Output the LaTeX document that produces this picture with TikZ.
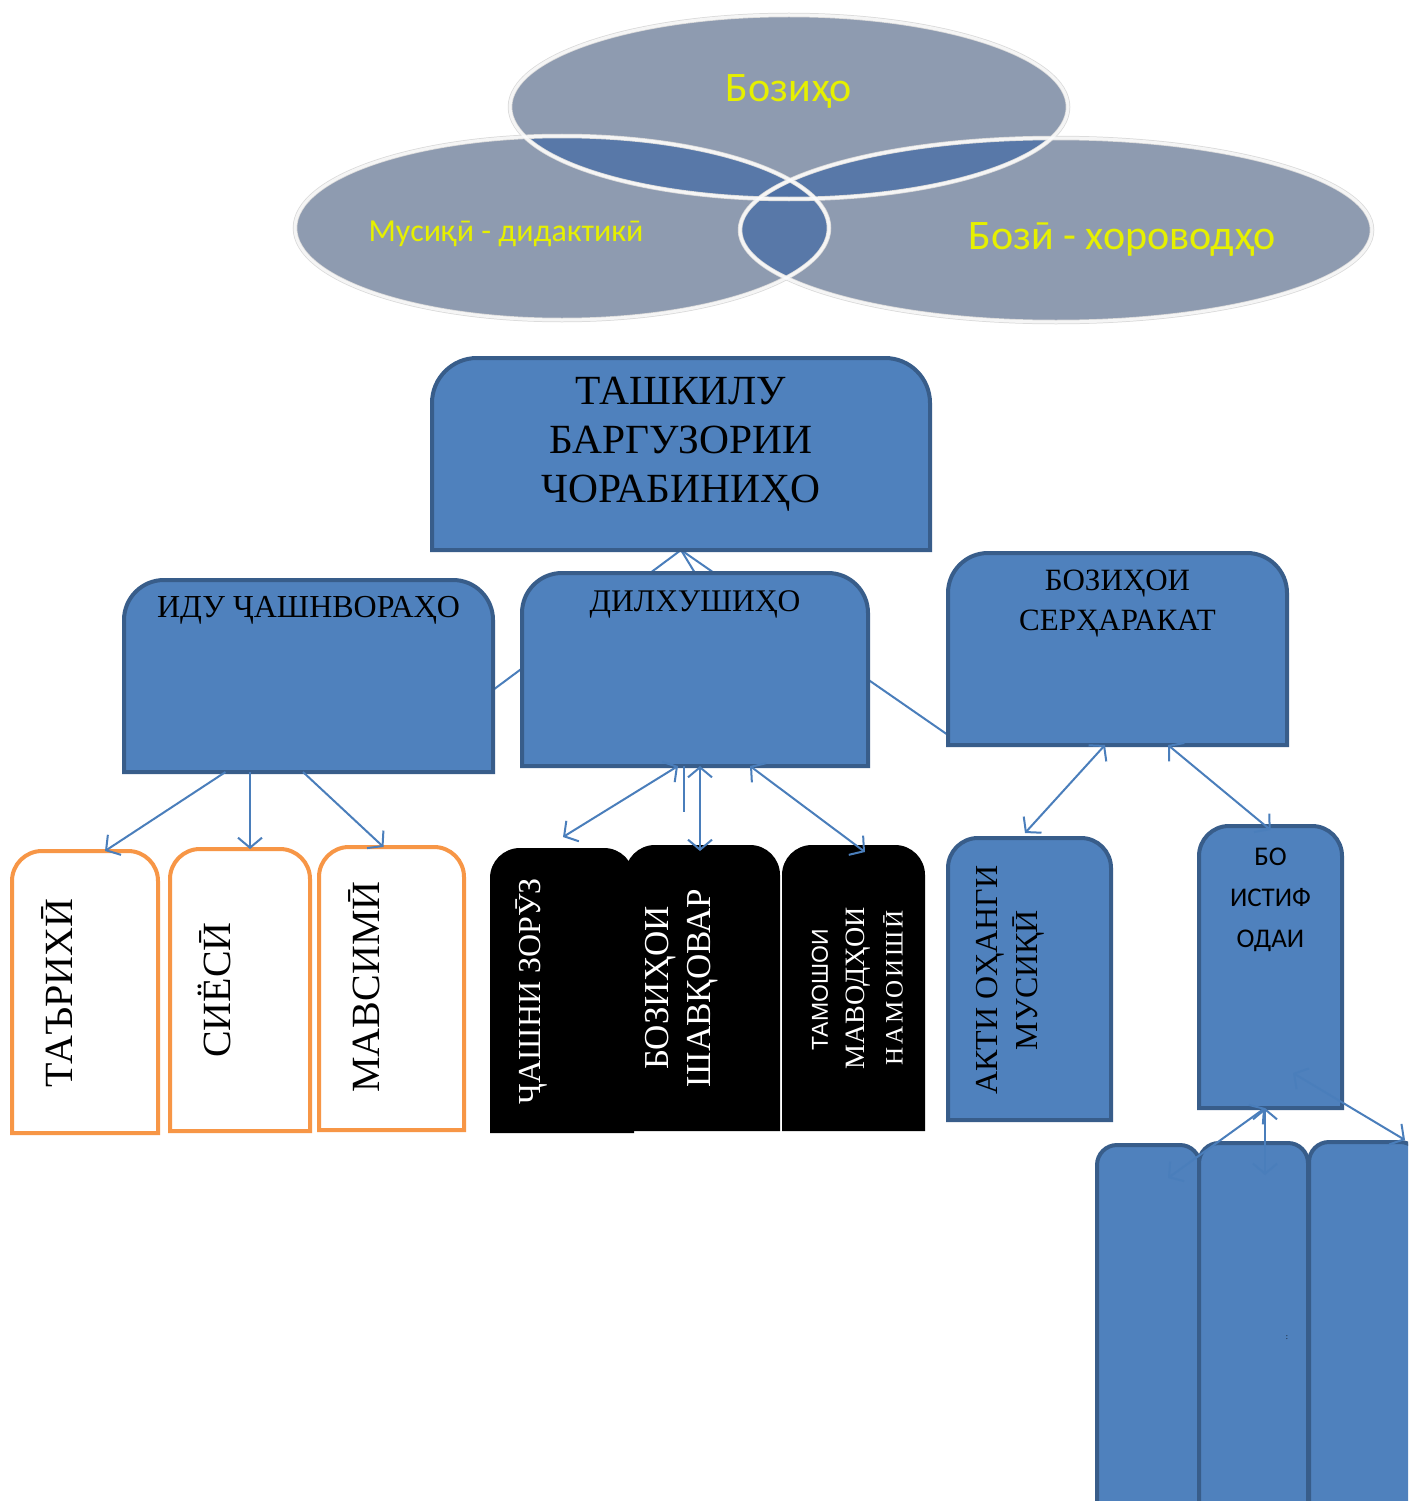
\documentclass[tikz,border=0pt]{standalone}
\usepackage{fontspec}
\setmainfont{Liberation Serif}
\newfontfamily\carl{Carlito}
\newfontfamily\lsans{Liberation Sans}
\usetikzlibrary{arrows.meta,calc}
\definecolor{boxblue}{HTML}{4F81BD}
\definecolor{boxline}{HTML}{385D8A}
\definecolor{arrc}{HTML}{4A7EBB}
\definecolor{orng}{HTML}{F79646}
\definecolor{ellf}{HTML}{8E9BB0}
\definecolor{ellov}{HTML}{5878A8}
\definecolor{ellc}{HTML}{4F71A5}
\definecolor{yel}{HTML}{E6F000}
\newcommand\rtbox[3]{\path[#1] (#2.south west) -- ([yshift=-#3]#2.north west) arc[start angle=180,end angle=90,radius=#3] -- ([xshift=-#3]#2.north east) arc[start angle=90,end angle=0,radius=#3] -- (#2.south east) -- cycle;}
\tikzset{
  frame/.style={inner sep=0pt, outer sep=0pt, draw=none},
  bluebox/.style={fill=boxblue, draw=boxline, line width=4pt},
  orangebox/.style={fill=white, draw=orng, line width=4pt},
  blackbox/.style={fill=black, draw=none},
  conn/.style={draw=arrc, line width=2pt},
  tip/.tip={Straight Barb[length=10pt,width=24pt]},
  arr/.style={conn, -tip},
  darr/.style={conn, tip-tip},
  elltext/.style={text=yel, inner sep=0pt},
  rot/.style={rotate=90, align=center, inner sep=0pt},
}
\begin{document}
\begin{tikzpicture}[x=1pt,y=-1pt]
\useasboundingbox (0,0) rectangle (1408,1501);
\clip (0,0) rectangle (1408,1501);
\fill[white] (0,0) rectangle (1408,1501);

% ---------- ellipses ----------
\def\eT{(789,107) ellipse[x radius=279pt,y radius=92pt]}
\def\eL{(562,228) ellipse[x radius=267pt,y radius=92pt]}
\def\eR{(1056,230) ellipse[x radius=316pt,y radius=92pt]}
\fill[ellf] \eT;
\fill[ellf] \eL;
\fill[ellf] \eR;
\begin{scope}\clip \eT; \fill[ellov] \eL; \fill[ellov] \eR; \end{scope}
\begin{scope}\clip \eL; \fill[ellov] \eR; \end{scope}
\begin{scope}\clip \eT; \clip \eL; \fill[ellc] \eR; \end{scope}
\draw[black!15, line width=4.5pt] \eT;
\draw[black!15, line width=4.5pt] \eL;
\draw[black!15, line width=4.5pt] \eR;
\draw[white, opacity=0.75, line width=3pt] \eT;
\draw[white, opacity=0.75, line width=3pt] \eL;
\draw[white, opacity=0.75, line width=3pt] \eR;
\node[elltext, font=\carl\fontsize{42}{46}\selectfont] (e1) at (789,91) {Бозиҳо};
\node[elltext, font=\carl\fontsize{32}{36}\selectfont] (e2) at (506,234) {Мусиқӣ - дидактикӣ};
\node[elltext, font=\carl\fontsize{42}{46}\selectfont] (e3) at (1122,239) {Бозӣ - хороводҳо};

% ---------- box frames ----------
\node[frame, minimum width=498pt, minimum height=192pt] (main) at (681,454) {};
\node[frame, minimum width=369pt, minimum height=192pt] (idu) at (308.5,676) {};
\node[frame, minimum width=346pt, minimum height=193pt] (dil) at (695,669.5) {};
\node[frame, minimum width=339pt, minimum height=192pt] (boz) at (1117.5,649) {};
\node[frame, minimum width=146pt, minimum height=282pt] (ta) at (85,992) {};
\node[frame, minimum width=140pt, minimum height=282pt] (si) at (240,990) {};
\node[frame, minimum width=145pt, minimum height=283pt] (ma) at (391.5,988.5) {};
\node[frame, minimum width=144pt, minimum height=285pt] (ch) at (562,990.5) {};
\node[frame, minimum width=155pt, minimum height=286pt] (bs) at (702.5,988) {};
\node[frame, minimum width=143pt, minimum height=286pt] (tm) at (853.5,988) {};
\node[frame, minimum width=163pt, minimum height=282pt] (akti) at (1029.5,979) {};
\node[frame, minimum width=143pt, minimum height=282pt] (bo) at (1270.5,967) {};
\node[frame, minimum width=103pt, minimum height=375pt] (b1) at (1148.5,1332.5) {};
\node[frame, minimum width=109pt, minimum height=377pt] (b2) at (1253.5,1331.5) {};
\node[frame, minimum width=111pt, minimum height=378pt] (b3) at (1364.5,1331) {};

% ---------- connectors behind level-2 boxes ----------
\draw[conn] (main.south) -- ([yshift=-14pt]idu.east);
\draw[conn] (main.south) -- (dil.north);
\draw[conn] (main.south) -- ([yshift=-86pt]boz.west);

% ---------- boxes ----------
\rtbox{bluebox}{main}{45pt}
\rtbox{bluebox}{idu}{40pt}
\rtbox{bluebox}{dil}{40pt}
\rtbox{bluebox}{boz}{40pt}
\rtbox{orangebox}{ta}{30pt}
\rtbox{orangebox}{si}{30pt}
\rtbox{orangebox}{ma}{30pt}
\rtbox{blackbox}{ch}{30pt}
\rtbox{blackbox}{bs}{30pt}
\rtbox{blackbox}{tm}{30pt}
\rtbox{bluebox}{akti}{30pt}
\rtbox{bluebox}{bo}{30pt}
\rtbox{bluebox}{b1}{20pt}
\rtbox{bluebox}{b2}{20pt}
\rtbox{bluebox}{b3}{20pt}

% ---------- texts ----------
\node[align=center, inner sep=0pt, font=\fontsize{41.5}{49}\selectfont] (maint) at (681,444) {ТАШКИЛУ\\БАРГУЗОРИИ\\ЧОРАБИНИҲО};
\node[inner sep=0pt, font=\fontsize{32}{36}\selectfont] (idut) at (308.5,610) {ИДУ ҶАШНВОРАҲО};
\node[inner sep=0pt, font=\fontsize{31.5}{36}\selectfont] (dilt) at (695,604) {ДИЛХУШИҲО};
\node[align=center, inner sep=0pt, font=\fontsize{31}{40}\selectfont] (bozt) at (1117.5,604) {БОЗИҲОИ\\СЕРҲАРАКАТ};
\node[rot, font=\fontsize{40}{44}\selectfont] (tat) at (57,993) {ТАЪРИХӢ};
\node[rot, font=\fontsize{40}{44}\selectfont] (sit) at (214,990) {СИЁСӢ};
\node[rot, font=\fontsize{40}{44}\selectfont] (mat) at (364,987) {МАВСИМӢ};
\node[rot, text=white, font=\fontsize{32}{40}\selectfont] (cht) at (532,991) {ҶАШНИ ЗОРӮЗ};
\node[rot, text=white, font=\fontsize{35}{42}\selectfont] (bst) at (682,988) {БОЗИҲОИ\\ШАВҚОВАР};
\node[rot, text=white, font=\lsans\fontsize{23}{28}\selectfont] (tmt1) at (820,990) {ТАМОШОИ};
\node[rot, text=white, font=\fontsize{28}{32}\selectfont] (tmt2) at (858,988) {МАВОДҲОИ};
\node[rot, text=white, font=\fontsize{25}{30}\selectfont\addfontfeatures{LetterSpace=12}] (tmt3) at (893,988) {НАМОИШӢ};
\node[rot, font=\fontsize{32}{40}\selectfont] (aktit) at (1010,980) {АКТИ ОҲАНГИ\\МУСИҚӢ};
\node[align=center, inner sep=0pt, font=\carl\fontsize{27}{41}\selectfont] (bot) at (1270.5,900) {БО\\ИСТИФ\\ОДАИ};
\node[inner sep=0pt, font=\fontsize{8}{8}\selectfont] (dots) at (1287,1338) {:};

% ---------- arrows ----------
\draw[arr] ([xshift=-83pt]idu.south) -- ([xshift=20pt]ta.north);
\draw[arr] ([xshift=-58.5pt]idu.south) -- ([xshift=10pt]si.north);
\draw[arr] ([xshift=-5.5pt]idu.south) -- ([xshift=-8pt]ma.north);

\draw[darr] ([xshift=-17pt]dil.south) -- ([xshift=1pt,yshift=11pt]ch.north);
\draw[darr] ([xshift=5pt]dil.south) -- ([xshift=-2.5pt,yshift=-6pt]bs.north);
\draw[darr] ([xshift=55pt]dil.south) -- ([xshift=11.5pt,yshift=-7pt]tm.north);
\coordinate (dilend) at (684,812);
\draw[conn] ([xshift=-11pt]dil.south) -- (dilend);

\draw[darr] ([xshift=-12.5pt]boz.south) -- ([xshift=-4.5pt,yshift=5pt]akti.north);
\draw[darr] ([xshift=50.5pt]boz.south) -- ([yshift=-4pt]bo.north);

\draw[darr] ([xshift=-5.5pt]bo.south) -- ([xshift=19.5pt,yshift=-33pt]b1.north);
\draw[darr] ([xshift=-5.5pt]bo.south) -- ([xshift=11.5pt,yshift=-32pt]b2.north);
\draw[darr] ([xshift=22.5pt,yshift=35pt]bo.south) -- ([xshift=40.5pt,yshift=2pt]b3.north);
\end{tikzpicture}
\end{document}
